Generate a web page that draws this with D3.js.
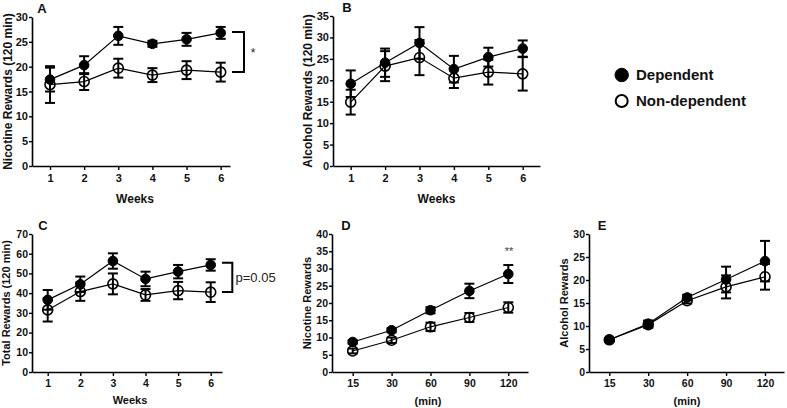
<!DOCTYPE html>
<html><head><meta charset="utf-8">
<script src="https://cdn.jsdelivr.net/npm/d3@7/dist/d3.min.js"></script>
<style>
body{margin:0;background:#fff;}
svg{font-family:"Liberation Sans",Arial,sans-serif;}
</style></head>
<body><svg id="c" width="787" height="408"></svg>
<script>
// ---- data ----
const weeks = ["1","2","3","4","5","6"];
const minutes = ["15","30","60","90","120"];
const legendLabels = ["Dependent","Non-dependent"];

const nicDepMean = [17.4, 20.3, 26.2, 24.6, 25.5, 26.8];
const nicDepSem  = [2.4, 1.8, 1.8, 0.6, 1.3, 1.2];
const nicNonMean = [16.4, 17.0, 19.7, 18.3, 19.3, 18.9];
const nicNonSem  = [3.7, 1.7, 1.9, 1.4, 1.8, 1.9];

const alcDepMean = [19.2, 24.1, 28.7, 22.6, 25.4, 27.4];
const alcDepSem  = [3.1, 3.3, 3.7, 3.1, 2.2, 1.9];
const alcNonMean = [14.9, 23.3, 25.3, 20.5, 21.9, 21.5];
const alcNonSem  = [2.9, 3.5, 4.1, 2.3, 2.9, 3.9];

const totDepMean = [36.6, 44.5, 56.3, 47.2, 50.9, 54.3];
const totDepSem  = [5.0, 3.9, 3.9, 3.7, 3.4, 2.9];
const totNonMean = [31.5, 40.8, 44.7, 39.1, 41.3, 40.5];
const totNonSem  = [5.9, 4.7, 5.3, 3.0, 4.4, 5.0];

const nicMinDepMean = [8.7, 12.1, 17.9, 23.5, 28.4];
const nicMinDepSem  = [0.5, 0.6, 0.9, 2.1, 2.6];
const nicMinNonMean = [6.1, 9.2, 13.1, 15.8, 18.7];
const nicMinNonSem  = [0.7, 0.8, 1.2, 1.3, 1.5];

const alcMinDepMean = [7.0, 10.5, 16.2, 20.1, 24.1];
const alcMinDepSem  = [0.4, 0.7, 0.6, 2.8, 4.4];
const alcMinNonMean = [7.0, 10.3, 15.5, 18.5, 20.7];
const alcMinNonSem  = [0.4, 0.7, 0.6, 2.5, 2.8];

// ---- layout ----
const svg = d3.select("#c");
const panels = [
  {id:"A", cats:weeks, dep:[nicDepMean,nicDepSem], non:[nicNonMean,nicNonSem], yMax:30, step:5,
   ax:32, top:17, bot:166, first:50, last:220.7, end:230, ylab:"Nicotine Rewards (120 min)", xlab:"Weeks",
   ylx:7.5, fs:12, tfs:11, titleX:42, titleY:13, xlabX:135, xlabY:203},
  {id:"B", cats:weeks, dep:[alcDepMean,alcDepSem], non:[alcNonMean,alcNonSem], yMax:35, step:5,
   ax:333, top:16, bot:166, first:350.7, last:522.7, end:540, ylab:"Alcohol Rewards (120 min)", xlab:"Weeks",
   ylx:308, fs:12, tfs:11, titleX:347, titleY:12, xlabX:436.5, xlabY:203},
  {id:"C", cats:weeks, dep:[totDepMean,totDepSem], non:[totNonMean,totNonSem], yMax:70, step:10,
   ax:32, top:234, bot:372, first:47.7, last:210.7, end:222, ylab:"Total Rewards (120 min)", xlab:"Weeks",
   ylx:6.5, fs:11, tfs:10.5, titleX:43, titleY:230, xlabX:130, xlabY:404},
  {id:"D", cats:minutes, dep:[nicMinDepMean,nicMinDepSem], non:[nicMinNonMean,nicMinNonSem], yMax:40, step:5,
   ax:332, top:234, bot:372, first:352.7, last:508.3, end:528, ylab:"Nicotine Rewards", xlab:"(min)",
   ylx:306.7, fs:11, tfs:10.5, titleX:346, titleY:230, xlabX:428, xlabY:405},
  {id:"E", cats:minutes, dep:[alcMinDepMean,alcMinDepSem], non:[alcMinNonMean,alcMinNonSem], yMax:30, step:5,
   ax:589, top:234, bot:372, first:609.3, last:765, end:784, ylab:"Alcohol Rewards", xlab:"(min)",
   ylx:564.5, fs:11, tfs:10.5, titleX:602, titleY:230, xlabX:687, xlabY:405}
];

panels.forEach(p => {
  const g = svg.append("g");
  const n = p.cats.length;
  const stepPx = (p.last - p.first) / (n - 1);
  const x = d3.scaleLinear()
    .domain([(p.ax - p.first) / stepPx, (p.end - p.first) / stepPx])
    .range([p.ax, p.end]);
  const y = d3.scaleLinear().domain([0, p.yMax]).range([p.bot, p.top]);

  // axes
  const xa = g.append("g").attr("transform", `translate(0,${p.bot})`)
    .call(d3.axisBottom(x).tickValues(d3.range(n)).tickFormat(i => p.cats[i]).tickSize(4).tickPadding(4).tickSizeOuter(0));
  const ya = g.append("g").attr("transform", `translate(${p.ax},0)`)
    .call(d3.axisLeft(y).tickValues(d3.range(0, p.yMax + 0.001, p.step)).tickSize(3).tickPadding(1).tickSizeOuter(0));
  [xa, ya].forEach(a => {
    a.select(".domain").attr("stroke", "#000").attr("stroke-width", 1.6);
    a.selectAll(".tick line").attr("stroke", "#000").attr("stroke-width", 1.4);
    a.selectAll(".tick text").attr("fill", "#111").attr("font-size", p.tfs).attr("font-weight", "bold");
  });

  // labels
  g.append("text").attr("x", p.titleX).attr("y", p.titleY).attr("text-anchor", "middle")
    .attr("font-size", 13).attr("font-weight", "bold").attr("fill", "#111").text(p.id);
  g.append("text").attr("x", p.xlabX).attr("y", p.xlabY).attr("text-anchor", "middle")
    .attr("font-size", p.fs).attr("font-weight", "bold").attr("fill", "#111").text(p.xlab);
  g.append("text").attr("transform", `translate(${p.ylx},${(p.top + p.bot) / 2}) rotate(-90)`)
    .attr("text-anchor", "middle").attr("dy", "0.35em")
    .attr("font-size", p.fs).attr("font-weight", "bold").attr("fill", "#111").text(p.ylab);

  const line = d3.line().x((d, i) => x(i)).y(d => y(d));
  const series = [{v:p.non, filled:false}, {v:p.dep, filled:true}];
  series.forEach(s => {
    const [m, e] = s.v;
    g.append("path").datum(m).attr("d", line).attr("fill", "none").attr("stroke", "#000").attr("stroke-width", 1.2);
    const eb = g.append("g");
    m.forEach((v, i) => {
      const cx = x(i);
      eb.append("line").attr("x1", cx).attr("x2", cx).attr("y1", y(v - e[i])).attr("y2", y(v + e[i]));
      eb.append("line").attr("x1", cx - 5).attr("x2", cx + 5).attr("y1", y(v + e[i])).attr("y2", y(v + e[i]));
      eb.append("line").attr("x1", cx - 5).attr("x2", cx + 5).attr("y1", y(v - e[i])).attr("y2", y(v - e[i]));
    });
    eb.selectAll("line").attr("stroke", "#000").attr("stroke-width", 2);
    g.append("g").selectAll("circle").data(m).join("circle")
      .attr("cx", (d, i) => x(i)).attr("cy", d => y(d))
      .attr("r", s.filled ? 4.8 : 5)
      .attr("fill", s.filled ? "#000" : "none")
      .attr("stroke", "#000").attr("stroke-width", s.filled ? 1 : 1.6);
  });
});

// significance annotations
const brk = (x1, x2, y1, y2) => {
  svg.append("path").attr("d", `M${x1},${y1}H${x2}V${y2}H${x1}`)
    .attr("fill", "none").attr("stroke", "#000").attr("stroke-width", 2);
};
brk(232, 244, 32, 72);
svg.append("text").attr("x", 253).attr("y", 57).attr("text-anchor", "middle")
  .attr("font-size", 12).attr("fill", "#222").text("*");
brk(222, 232.3, 262.7, 292);
svg.append("text").attr("x", 235.5).attr("y", 281.5)
  .attr("font-size", 13).attr("fill", "#222").text("p=0.05");
svg.append("text").attr("x", 509).attr("y", 255).attr("text-anchor", "middle")
  .attr("font-size", 11).attr("fill", "#444").text("**");

// legend
const leg = svg.append("g");
legendLabels.forEach((t, i) => {
  const yy = 75 + i * 26;
  leg.append("circle").attr("cx", 621.7).attr("cy", yy).attr("r", i === 0 ? 6.7 : 6)
    .attr("fill", i === 0 ? "#000" : "none").attr("stroke", "#000").attr("stroke-width", i === 0 ? 1 : 2);
  leg.append("text").attr("x", 636).attr("y", yy).attr("dy", "0.35em")
    .attr("font-size", 15).attr("font-weight", "bold").attr("fill", "#111").text(t);
});
</script></body></html>
